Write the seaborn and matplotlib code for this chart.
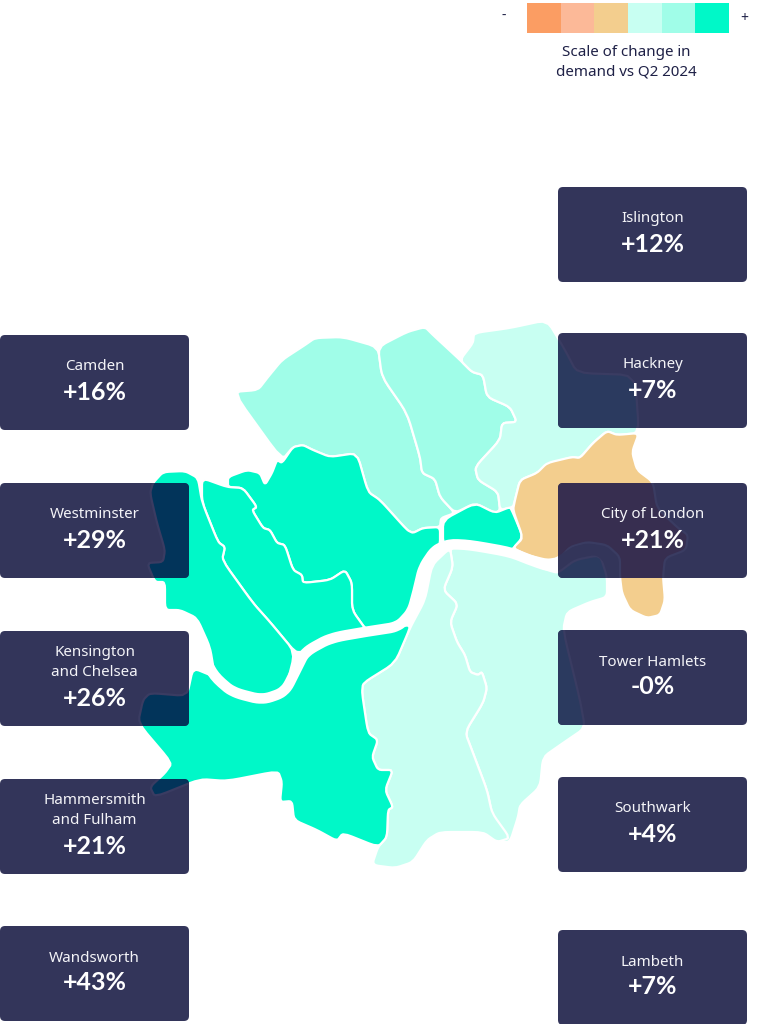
import numpy as np
import matplotlib
matplotlib.use("Agg")
import matplotlib.pyplot as plt
from matplotlib.colors import ListedColormap
from matplotlib.patches import FancyBboxPatch, Polygon
import seaborn as sns

# ---------- data ----------
left_names = ["Camden", "Westminster", "Kensington\nand Chelsea", "Hammersmith\nand Fulham", "Wandsworth"]
left_changes = ["+16%", "+29%", "+26%", "+21%", "+43%"]
right_names = ["Islington", "Hackney", "City of London", "Tower Hamlets", "Southwark", "Lambeth"]
right_changes = ["+12%", "+7%", "+21%", "-0%", "+4%", "+7%"]
scale_steps = [[0, 1, 2, 3, 4, 5]]

camden = [(233,392),(258,390),(268,377),(282,360),(305,345),(315,338),(343,337),(378,347),(382,377),(407,413),(420,457),(422,473),(435,479),(440,497),(455,513),(441,518),(440,527),(423,528),(413,533),(407,530),(380,500),(368,492),(357,453),(330,457),(313,450),(303,445),(293,447),(282,460)]
islington = [(378,347),(407,332),(425,327),(433,335),(460,360),(472,372),(483,375),(487,397),(510,407),(517,422),(502,423),(500,440),(475,467),(478,480),(498,492),(500,510),(495,513),(475,503),(455,513),(440,497),(435,479),(422,473),(420,457),(407,413),(382,377)]
hackney = [(460,360),(473,343),(474,333),(510,328),(547,320),(565,350),(577,373),(635,375),(639,433),(617,435),(607,431),(593,443),(580,458),(572,457),(548,464),(537,473),(520,480),(515,500),(513,507),(500,510),(498,492),(478,480),(475,467),(500,440),(502,423),(517,422),(510,407),(487,397),(483,375),(472,372)]
city = [(443,520),(475,503),(495,513),(510,507),(513,513),(523,537),(510,552),(467,545),(443,545)]
tower = [(513,510),(515,500),(520,480),(537,473),(547,463),(572,457),(580,458),(593,443),(607,431),(617,435),(639,433),(632,452),(637,470),(653,482),(657,508),(678,528),(688,535),(686,550),(665,558),(663,577),(665,600),(660,615),(647,618),(630,610),(622,593),(620,577),(620,557),(607,545),(587,542),(570,547),(560,558),(547,560),(527,555),(513,548),(523,538)]
southwark = [(450,548),(467,545),(510,553),(547,570),(558,573),(575,560),(600,555),(607,577),(607,597),(590,602),(567,612),(563,630),(580,700),(585,728),(563,743),(543,757),(540,787),(520,805),(518,817),(510,842),(497,842),(492,813),(487,790),(473,753),(465,732),(483,703),(487,688),(482,672),(478,675),(470,672),(465,655),(457,642),(450,622),(458,604),(443,590),(453,567)]
lambeth = [(450,548),(453,567),(443,590),(458,604),(450,622),(457,642),(465,655),(470,672),(478,675),(482,672),(487,688),(483,703),(465,732),(473,753),(487,790),(492,813),(510,838),(497,842),(483,832),(440,832),(427,840),(413,862),(395,868),(372,865),(378,847),(387,837),(388,810),(393,807),(385,790),(393,770),(378,770),(372,757),(378,740),(368,733),(362,693),(363,683),(395,663),(410,628),(425,600),(432,565)]
wandsworth = [(193,668),(215,677),(232,692),(262,700),(285,692),(297,668),(305,652),(330,638),(370,631),(408,625),(410,628),(395,663),(363,683),(362,693),(368,733),(378,740),(372,757),(378,770),(393,770),(385,790),(393,807),(388,810),(387,837),(378,847),(343,833),(337,841),(317,830),(294,820),(292,801),(280,802),(282,782),(278,771),(227,781),(200,779),(155,797),(150,787),(165,773),(172,763),(138,723),(143,700),(150,693),(187,696)]
westminster = [(228,477),(247,470),(260,473),(265,485),(272,473),(277,460),(282,463),(293,447),(303,445),(313,450),(330,457),(357,453),(368,492),(380,500),(407,530),(413,533),(423,528),(440,527),(440,545),(425,570),(418,600),(400,625),(367,631),(352,610),(352,583),(345,570),(330,580),(303,583),(302,575),(293,570),(285,545),(277,543),(270,530),(263,528),(252,510),(257,507),(243,488),(228,487)]
kensington = [(202,478),(227,487),(243,488),(257,507),(252,510),(263,528),(270,530),(277,543),(285,545),(293,570),(302,575),(303,583),(330,580),(345,570),(352,583),(352,610),(367,631),(330,638),(305,652),(295,652),(270,622),(253,603),(222,560),(225,547),(218,542),(202,502)]
hammersmith = [(163,472),(185,471),(198,478),(202,502),(218,542),(225,547),(222,560),(253,603),(270,622),(295,652),(285,692),(262,700),(232,692),(215,677),(210,647),(197,618),(180,610),(165,610),(165,582),(155,582),(147,563),(163,562),(165,550),(157,523),(150,493),(153,483)]
thames = [(195,640),(205,660),(215,677),(232,692),(262,700),(285,692),(297,668),(305,652),(330,638),(370,631),(398,627),(412,612),(418,590),(423,568),(435,550),(450,544),(470,545),(510,552),(530,560),(550,567),(565,558),(578,550),(600,550),(613,565),(614,580),(612,620)]

# ---------- styles ----------
W, H = 759, 1024
ORANGE, PEACH, SAND, PALE, MID, MINT = "#fb9d63", "#fcb998", "#f3ce8e", "#c8fff2", "#a0fde8", "#00f8c8"
CARD = "#33355a"
INK = "#1f2147"
OVER = {SAND: "#372e50", PALE: "#2b3a5f", MID: "#27395f", MINT: "#02345a"}
regions = [(camden, MID), (islington, MID), (hackney, PALE), (city, MINT), (tower, SAND),
           (southwark, PALE), (lambeth, PALE), (wandsworth, MINT), (westminster, MINT),
           (kensington, MINT), (hammersmith, MINT)]

sns.set_theme(style="white")
plt.rcParams["font.family"] = ["Noto Sans", "DejaVu Sans"]


def smooth(points, closed=True, rounds=2, cut=0.2):
    pts = np.asarray(points, dtype=float)
    for _ in range(rounds):
        nxt = np.roll(pts, -1, axis=0) if closed else pts[1:]
        cur = pts if closed else pts[:-1]
        q = (1 - cut) * cur + cut * nxt
        r = cut * cur + (1 - cut) * nxt
        out = np.empty((len(q) * 2, 2))
        out[0::2], out[1::2] = q, r
        pts = out
    return pts


fig = plt.figure(figsize=(W / 100, H / 100), dpi=100, facecolor="white")
ax = fig.add_axes([0, 0, 1, 1])
ax.set_xlim(0, W)
ax.set_ylim(H, 0)
ax.axis("off")


def draw_map(edge, river, palette=None, z=1, clip=None):
    for outline, colour in regions:
        face = palette[colour] if palette else colour
        p = Polygon(smooth(outline, cut=0.15), closed=True, facecolor=face, edgecolor=edge,
                    linewidth=1.6, joinstyle="round", zorder=z)
        ax.add_patch(p)
        if clip is not None:
            p.set_clip_path(clip)
    xy = smooth(thames, closed=False, rounds=3)
    line, = ax.plot(xy[:, 0], xy[:, 1], color=river, lw=7.6, solid_capstyle="butt",
                    solid_joinstyle="round", zorder=z + 0.5)
    if clip is not None:
        line.set_clip_path(clip)


draw_map("white", "white")


def draw_card(x, top, h, name, change):
    card = FancyBboxPatch((x, top), 189, h, boxstyle="round,pad=0,rounding_size=5",
                          facecolor=CARD, edgecolor="none", zorder=3, mutation_aspect=1)
    ax.add_patch(card)
    draw_map("#3a3c62", CARD, OVER, z=4, clip=card)
    cx = x + 94.5
    lines = name.split("\n")
    if len(lines) == 2:
        ys, vy = [top + 22, top + 42], top + 67
    else:
        ys, vy = [top + 32], top + 57
    for s, y in zip(lines, ys):
        ax.text(cx, y, s, color="#f4f4f8", fontsize=10.9, ha="center", va="center", zorder=6)
    ax.text(cx, vy, change, color="white", fontsize=18, fontweight="bold", family="Lato",
            ha="center", va="center", zorder=6)


left_tops = [335, 483, 631, 779, 926]
right_tops = [187, 333, 483, 630, 777, 930]
for t, n, c in zip(left_tops, left_names, left_changes):
    draw_card(0, t, 95, n, c)
for t, n, c in zip(right_tops, right_names, right_changes):
    draw_card(558, t, 95, n, c)

# colour scale
scale_ax = fig.add_axes([527 / W, 1 - 33 / H, 202 / W, 30 / H])
sns.heatmap(np.array(scale_steps), ax=scale_ax, cbar=False, xticklabels=False, yticklabels=False,
            cmap=ListedColormap([ORANGE, PEACH, SAND, PALE, MID, MINT]), vmin=-0.5, vmax=5.5)
ax.text(504, 16, "-", color=INK, fontsize=10, ha="center", va="center")
ax.text(744, 18, "+", color=INK, fontsize=10, ha="center", va="center")
ax.text(626, 53, "Scale of change in", color=INK, fontsize=10.9, ha="center", va="center")
ax.text(626, 72, "demand vs Q2 2024", color=INK, fontsize=10.9, ha="center", va="center")

fig.savefig("out.png", dpi=100, facecolor="white")
